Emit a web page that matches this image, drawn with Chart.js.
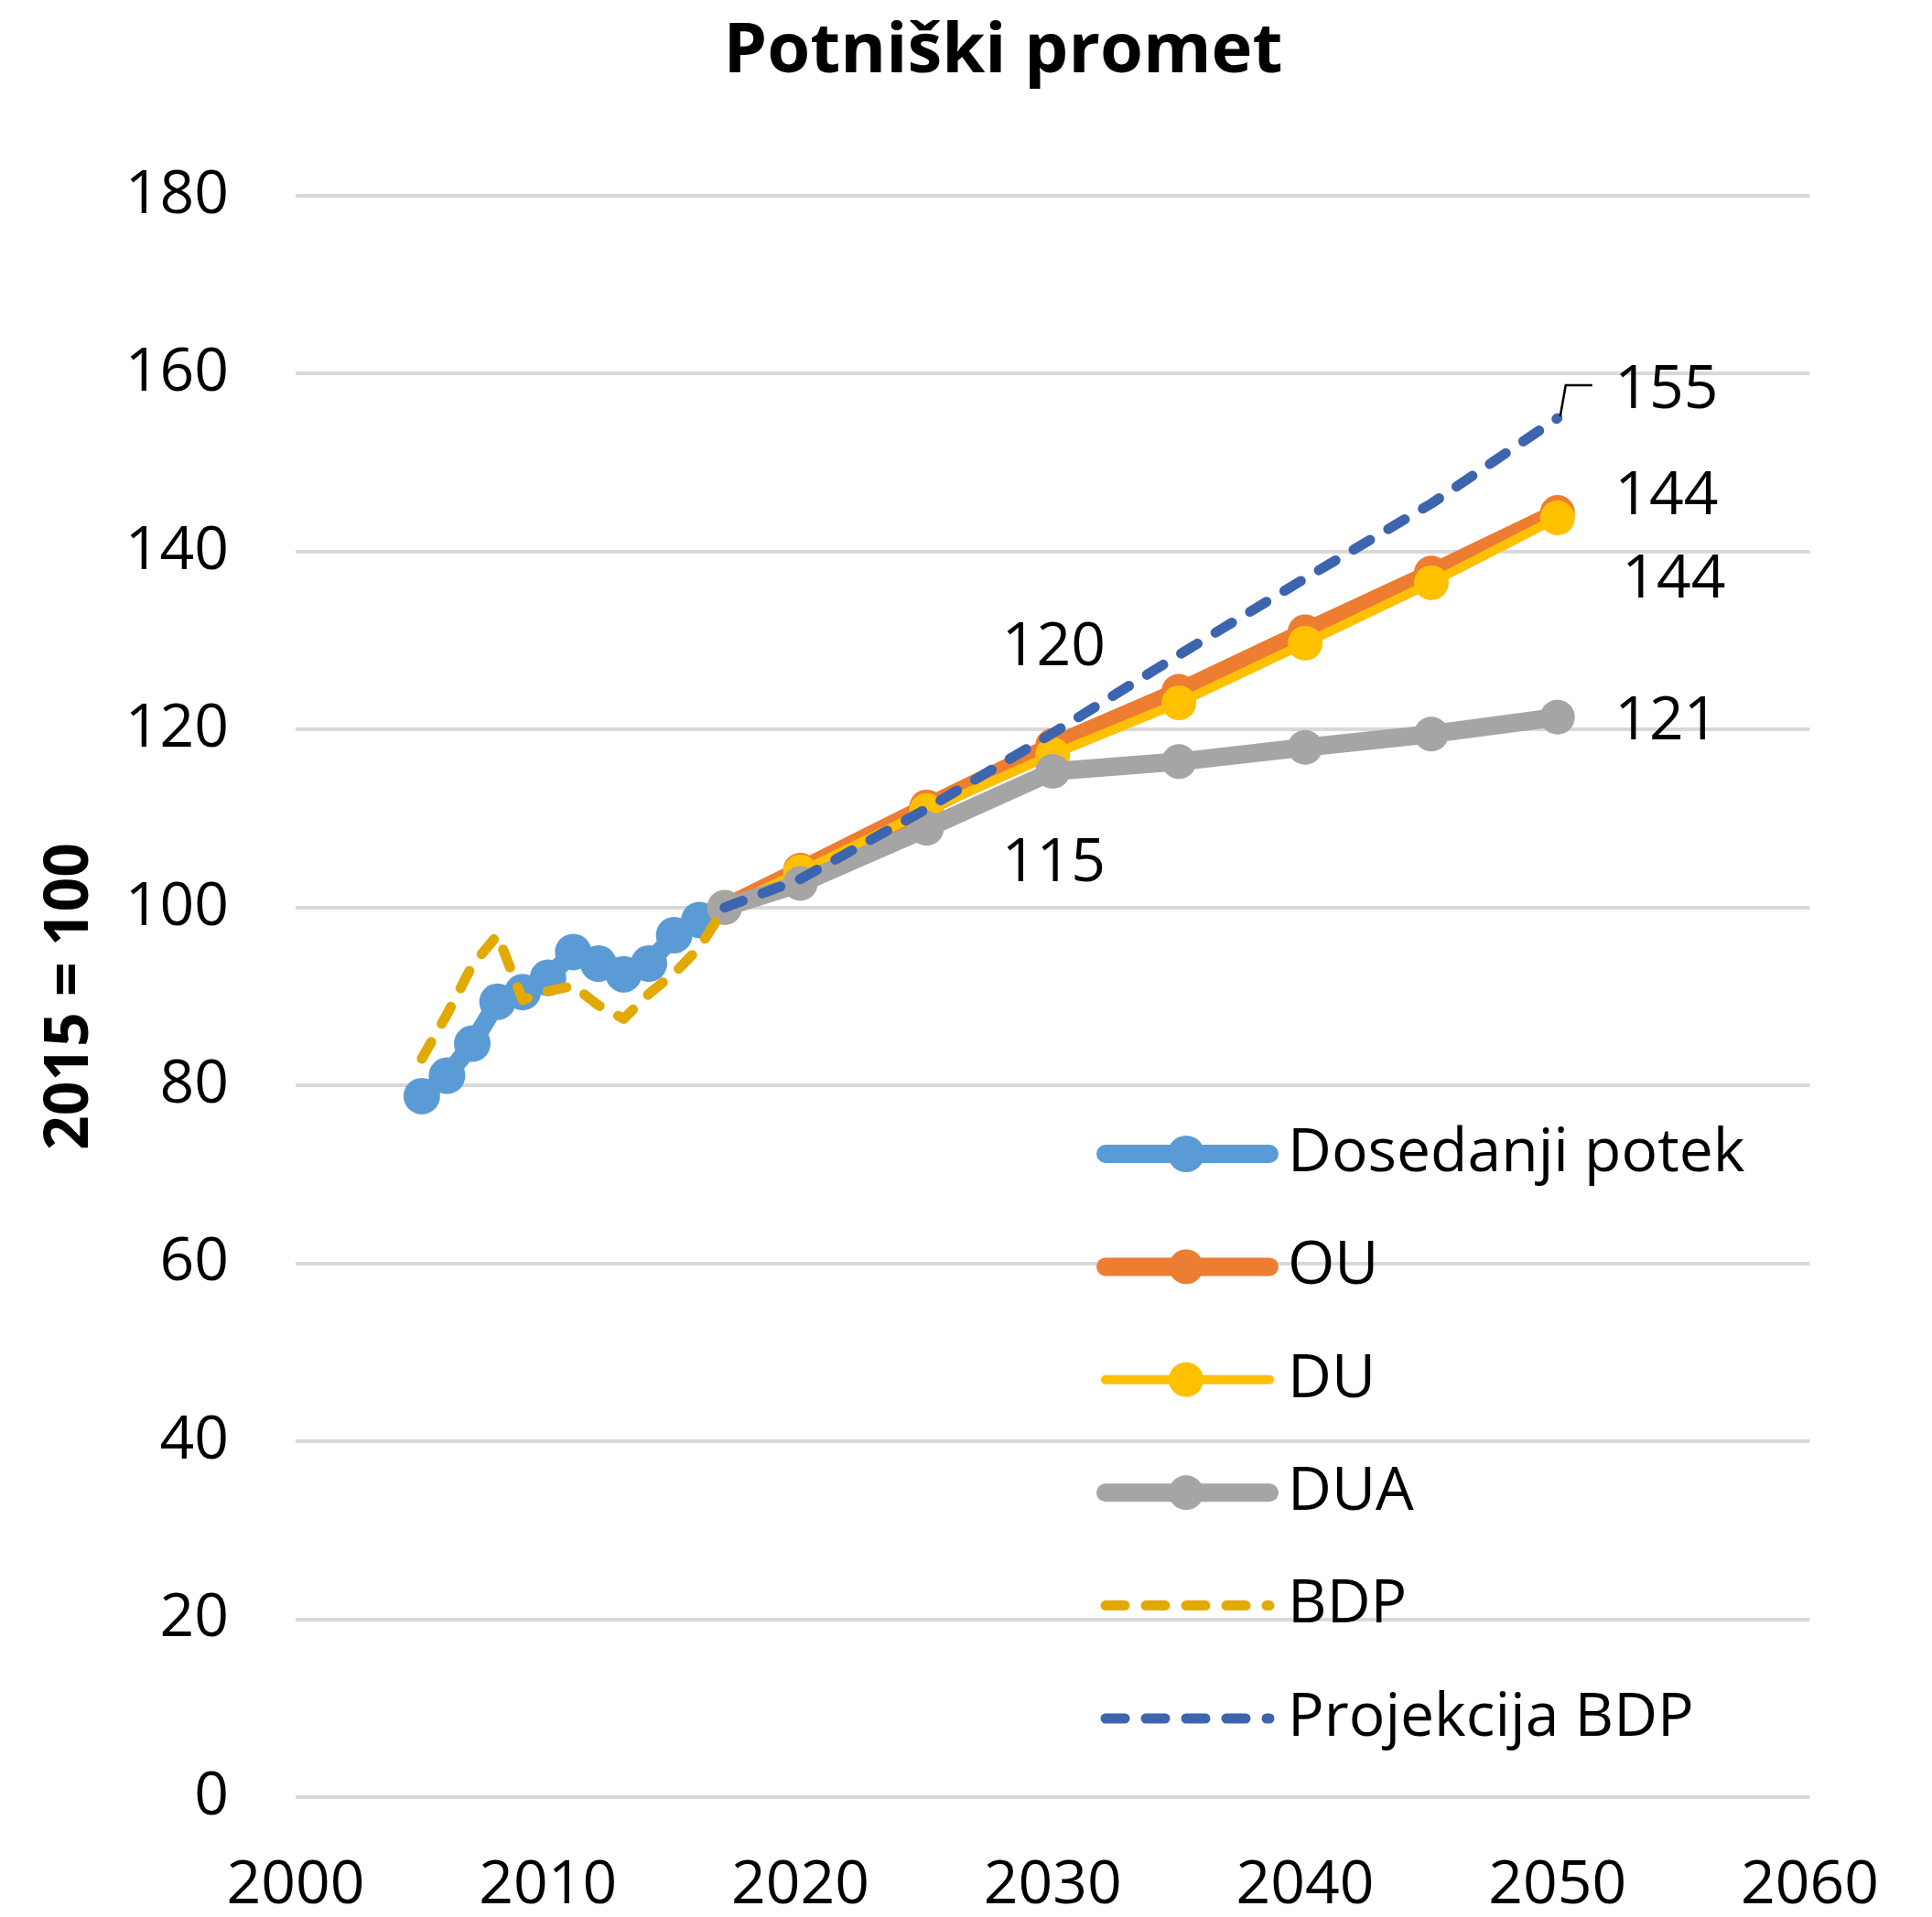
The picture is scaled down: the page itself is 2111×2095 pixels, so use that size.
<!DOCTYPE html>
<html>
<head>
<meta charset="utf-8">
<script src="https://cdn.jsdelivr.net/npm/chart.js@4.4.1/dist/chart.umd.min.js"></script>
<style>
  html, body { margin: 0; padding: 0; background: #ffffff; }
  #okvir { width: 2111px; height: 2095px; }
</style>
</head>
<body>
<div id="okvir"><canvas id="graf"></canvas></div>
<script>
// Podatki (2015 = 100)
const letaZgodovina = [2005, 2006, 2007, 2008, 2009, 2010, 2011, 2012, 2013, 2014, 2015, 2016];
const dosedanjiPotek = [78.8, 81.1, 84.7, 89.4, 90.5, 92.1, 95.0, 93.7, 92.5, 93.7, 96.9, 98.6];

const letaBdp = [2005, 2006, 2007, 2008, 2009, 2010, 2011, 2012, 2013, 2014, 2015, 2016, 2017];
const bdp = [83.0, 88.0, 93.5, 96.9, 89.6, 90.6, 91.2, 89.0, 87.5, 90.3, 92.6, 95.5, 100];

const letaProjekcije = [2017, 2020, 2025, 2030, 2035, 2040, 2045, 2050];
const ou = [100, 104.2, 111.3, 118.2, 124.3, 131.0, 137.6, 144.4];
const du = [100, 104.0, 110.9, 117.2, 123.0, 129.7, 136.5, 143.8];
const dua = [100, 102.7, 108.9, 115.3, 116.4, 118.0, 119.5, 121.4];
const projekcijaBdp = [100, 103.2, 111.1, 119.6, 128.4, 137.0, 145.4, 155.0];

const naslov = 'Potniški promet';
const pisava = '"Open Sans", "Noto Sans", sans-serif';

// združi leta in vrednosti v točke za linearno os x
function tocke(leta, vrednosti) {
  return leta.map((leto, i) => ({ x: leto, y: vrednosti[i] }));
}

// oznake vrednosti: serija, indeks točke, zamik besedila
const oznake = [
  { serija: 5, indeks: 7, dx: 119, dy: -30, vodilo: true },
  { serija: 1, indeks: 7, dx: 119, dy: -17 },
  { serija: 2, indeks: 7, dx: 127, dy: 68 },
  { serija: 3, indeks: 7, dx: 119, dy: 5 },
  { serija: 5, indeks: 3, dx: 1, dy: -93 },
  { serija: 3, indeks: 3, dx: 1, dy: 101 }
];

const dodatki = {
  id: 'dodatki',
  afterDatasetsDraw(chart) {
    const { ctx } = chart;
    const x = chart.scales.x;
    const y = chart.scales.y;
    ctx.save();

    // naslov
    ctx.font = 'bold 76px ' + pisava;
    ctx.fillStyle = '#000000';
    ctx.textAlign = 'center';
    ctx.textBaseline = 'alphabetic';
    ctx.fillText(naslov, 1096, 79);

    // oznake vrednosti
    ctx.font = '66px ' + pisava;
    ctx.textBaseline = 'middle';
    oznake.forEach(o => {
      const t = chart.data.datasets[o.serija].data[o.indeks];
      const px = x.getPixelForValue(t.x);
      const py = y.getPixelForValue(t.y);
      ctx.fillText(String(Math.round(t.y)), px + o.dx, py + o.dy);
      if (o.vodilo) {
        ctx.strokeStyle = '#000000';
        ctx.lineWidth = 2.5;
        ctx.setLineDash([]);
        ctx.beginPath();
        ctx.moveTo(px + 38, py - 36);
        ctx.lineTo(px + 9, py - 36);
        ctx.lineTo(px + 3, py - 2);
        ctx.stroke();
      }
    });

    // legenda
    const levo = 1208, desno = 1387, besediloX = 1407;
    const vrsticaY = 1261, razmik = 123.4;
    ctx.textAlign = 'left';
    chart.data.datasets.forEach((ds, i) => {
      const yy = vrsticaY + i * razmik;
      ctx.strokeStyle = ds.borderColor;
      ctx.lineWidth = ds.borderWidth;
      ctx.lineCap = 'round';
      ctx.setLineDash(ds.borderDash || []);
      ctx.beginPath();
      ctx.moveTo(levo, yy);
      ctx.lineTo(desno, yy);
      ctx.stroke();
      if (ds.pointRadius > 0) {
        ctx.fillStyle = ds.backgroundColor;
        ctx.beginPath();
        ctx.arc(1296, yy, ds.pointRadius, 0, Math.PI * 2);
        ctx.fill();
      }
      ctx.fillStyle = '#000000';
      ctx.fillText(ds.label, besediloX, yy);
    });
    ctx.restore();
  }
};

function polnaCrta(label, barva, debelina, polmer, leta, vrednosti, vrstniRed) {
  return {
    label: label,
    data: tocke(leta, vrednosti),
    borderColor: barva,
    backgroundColor: barva,
    borderWidth: debelina,
    pointRadius: polmer,
    pointHoverRadius: polmer,
    pointBorderWidth: 0,
    pointBackgroundColor: barva,
    borderJoinStyle: 'round',
    borderCapStyle: 'round',
    tension: 0,
    order: vrstniRed
  };
}

function crtkanaCrta(label, barva, leta, vrednosti, vrstniRed) {
  return {
    label: label,
    data: tocke(leta, vrednosti),
    borderColor: barva,
    backgroundColor: barva,
    borderWidth: 11,
    borderDash: [21, 23],
    borderCapStyle: 'round',
    borderJoinStyle: 'round',
    pointRadius: 0,
    pointHoverRadius: 0,
    tension: 0,
    order: vrstniRed
  };
}

const podatkiGrafa = {
  datasets: [
    polnaCrta('Dosedanji potek', '#5B9BD5', 20, 20, letaZgodovina, dosedanjiPotek, 5),
    polnaCrta('OU', '#ED7D31', 20, 19, letaProjekcije, ou, 4),
    polnaCrta('DU', '#FFC000', 10, 19, letaProjekcije, du, 3),
    polnaCrta('DUA', '#A5A5A5', 20, 19, letaProjekcije, dua, 2),
    crtkanaCrta('BDP', '#E2AA00', letaBdp, bdp, 1),
    crtkanaCrta('Projekcija BDP', '#3D64AE', letaProjekcije, projekcijaBdp, 0)
  ]
};

new Chart(document.getElementById('graf'), {
  type: 'line',
  data: podatkiGrafa,
  plugins: [dodatki],
  options: {
    responsive: true,
    maintainAspectRatio: false,
    animation: false,
    devicePixelRatio: 1,
    layout: { padding: { left: 0, right: 131, top: 214, bottom: 0 } },
    plugins: {
      legend: { display: false },
      tooltip: { enabled: false },
      title: { display: false }
    },
    scales: {
      x: {
        type: 'linear',
        min: 2000,
        max: 2060,
        grid: { display: false, drawTicks: false },
        border: { display: false },
        ticks: {
          stepSize: 10,
          padding: 58,
          color: '#000000',
          font: { family: pisava, size: 66 },
          callback: v => String(v)
        },
        afterFit: s => { s.height = 131; }
      },
      y: {
        min: 0,
        max: 180,
        grid: { color: '#D9D9D9', lineWidth: 4, drawTicks: false },
        border: { display: false },
        ticks: {
          stepSize: 20,
          padding: 73,
          color: '#000000',
          font: { family: pisava, size: 66 }
        },
        title: {
          display: true,
          text: '2015 = 100',
          color: '#000000',
          font: { family: pisava, size: 66, weight: 'bold', lineHeight: 1.2 },
          padding: { top: 38, bottom: 0 }
        },
        afterFit: s => { s.width = 323; }
      }
    }
  }
});
</script>
</body>
</html>
